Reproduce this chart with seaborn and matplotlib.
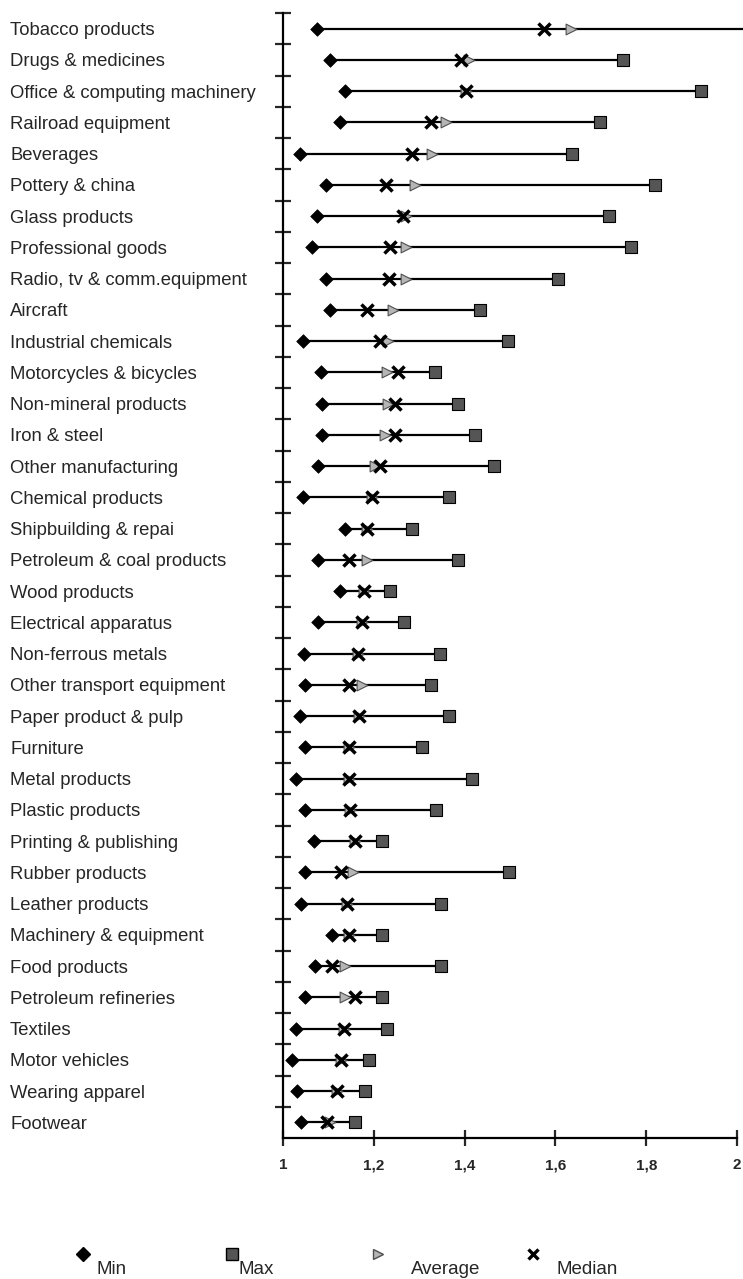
import numpy as np
import pandas as pd
import matplotlib
matplotlib.use("Agg")
import matplotlib.pyplot as plt
from matplotlib.lines import Line2D
from matplotlib.ticker import FixedLocator, FuncFormatter
import seaborn as sns

categories = [
    "Tobacco products", "Drugs & medicines", "Office & computing machinery",
    "Railroad equipment", "Beverages", "Pottery & china", "Glass products",
    "Professional goods", "Radio, tv & comm.equipment", "Aircraft",
    "Industrial chemicals", "Motorcycles & bicycles", "Non-mineral products",
    "Iron & steel", "Other manufacturing", "Chemical products",
    "Shipbuilding & repai", "Petroleum & coal products", "Wood products",
    "Electrical apparatus", "Non-ferrous metals", "Other transport equipment",
    "Paper product & pulp", "Furniture", "Metal products", "Plastic products",
    "Printing & publishing", "Rubber products", "Leather products",
    "Machinery & equipment", "Food products", "Petroleum refineries",
    "Textiles", "Motor vehicles", "Wearing apparel", "Footwear",
]
min_vals = [1.075, 1.103, 1.136, 1.125, 1.037, 1.095, 1.075, 1.064, 1.095, 1.104,
            1.044, 1.084, 1.087, 1.087, 1.076, 1.044, 1.136, 1.076, 1.125, 1.076,
            1.046, 1.048, 1.038, 1.048, 1.028, 1.048, 1.068, 1.048, 1.039, 1.109,
            1.070, 1.049, 1.029, 1.020, 1.031, 1.040]
max_vals = [2.10, 1.749, 1.921, 1.699, 1.637, 1.819, 1.718, 1.767, 1.606, 1.435,
            1.496, 1.334, 1.385, 1.424, 1.465, 1.365, 1.285, 1.385, 1.235, 1.266,
            1.345, 1.325, 1.366, 1.306, 1.416, 1.336, 1.217, 1.498, 1.349, 1.219,
            1.349, 1.219, 1.229, 1.189, 1.180, 1.159]
median_vals = [1.574, 1.393, 1.404, 1.325, 1.285, 1.226, 1.264, 1.235, 1.233, 1.184,
               1.214, 1.253, 1.246, 1.246, 1.214, 1.195, 1.185, 1.145, 1.178, 1.175,
               1.165, 1.145, 1.167, 1.145, 1.145, 1.147, 1.158, 1.127, 1.141, 1.145,
               1.109, 1.158, 1.134, 1.128, 1.119, 1.097]
avg_vals = [1.635, 1.410, 1.404, 1.360, 1.329, 1.290, 1.270, 1.270, 1.270, 1.242,
            1.231, 1.229, 1.231, 1.224, 1.202, 1.195, 1.185, 1.184, 1.178, 1.175,
            1.165, 1.173, 1.167, 1.145, 1.145, 1.147, 1.158, 1.154, 1.141, 1.145,
            1.136, 1.136, 1.134, 1.128, 1.119, 1.103]
x_ticks = [1, 1.2, 1.4, 1.6, 1.8, 2]
legend_labels = ["Min", "Max", "Average", "Median"]

sns.set_style("white")
plt.rcParams["font.family"] = ["Liberation Sans", "DejaVu Sans"]

df = pd.DataFrame({"cat": categories, "Min": min_vals, "Max": max_vals,
                   "Average": avg_vals, "Median": median_vals})
df["pos"] = np.arange(len(df))

fig = plt.figure(figsize=(7.43, 12.79), dpi=100)
ax = fig.add_axes([283 / 743, 1 - 1138 / 1279, (737 - 283) / 743, (1138 - 13) / 1279])

ax.hlines(df["pos"], df["Min"], df["Max"], color="black", lw=1.6, zorder=1, clip_on=False)

styles = {
    "Min": dict(marker="D", s=48, color="black", edgecolor="black", linewidth=0.5, zorder=3),
    "Max": dict(marker="s", s=75, color="#555555", edgecolor="black", linewidth=0.8, zorder=3),
    "Average": dict(marker=">", s=60, color="#b5b5b5", edgecolor="#505050", linewidth=0.8, zorder=4),
    "Median": dict(marker="x", s=75, color="black", linewidth=2.5, zorder=5),
}
for key in ["Min", "Max", "Average", "Median"]:
    sns.scatterplot(data=df, x=key, y="pos", ax=ax, legend=False, **styles[key])

n = len(categories)
ax.set_xlim(1, 2)
ax.set_ylim(n - 0.5, -0.5)
ax.set_xlabel("")
ax.set_ylabel("")

ax.set_yticks(df["pos"])
ax.set_yticklabels(categories)
ax.yaxis.set_minor_locator(FixedLocator(np.arange(-0.5, n - 0.5, 1.0)))
ax.tick_params(axis="y", which="major", length=0, pad=196.5, labelsize=13.3)
ax.tick_params(axis="y", which="minor", length=11, width=1.6, direction="inout", left=True)
for lab in ax.get_yticklabels():
    lab.set_ha("left")

ax.set_xticks(x_ticks)
ax.xaxis.set_major_formatter(FuncFormatter(lambda v, p: ("%g" % v).replace(".", ",")))
ax.tick_params(axis="x", which="major", length=11, width=1.6, direction="inout",
               bottom=True, pad=9, labelsize=11)
for lab in ax.get_xticklabels():
    lab.set_fontweight("bold")

for s in ["top", "right"]:
    ax.spines[s].set_visible(False)
for s in ["left", "bottom"]:
    ax.spines[s].set_linewidth(1.6)
    ax.spines[s].set_color("black")

# legend (manual, marker raised and left of the text)
leg_marker_x = [83, 232, 378, 533]
leg_text_x = [97, 239, 411, 557]
for lab, mx, tx in zip(legend_labels, leg_marker_x, leg_text_x):
    st = styles[lab]
    mk = st["marker"]
    ms = np.sqrt(st["s"])
    fc = st.get("color")
    ec = st.get("edgecolor", fc)
    if mk == "x":
        h = Line2D([mx / 743], [1 - 1254 / 1279], marker="x", markersize=ms * 0.85,
                   color="black", markeredgewidth=2.4, linestyle="none",
                   transform=fig.transFigure)
    else:
        h = Line2D([mx / 743], [1 - 1254 / 1279], marker=mk, markersize=ms,
                   markerfacecolor=fc, markeredgecolor=ec, linestyle="none",
                   transform=fig.transFigure)
    fig.add_artist(h)
    fig.text(tx / 743, 1 - 1270 / 1279, lab, fontsize=13.5, ha="left", va="center")

fig.savefig("out.png", dpi=100)
